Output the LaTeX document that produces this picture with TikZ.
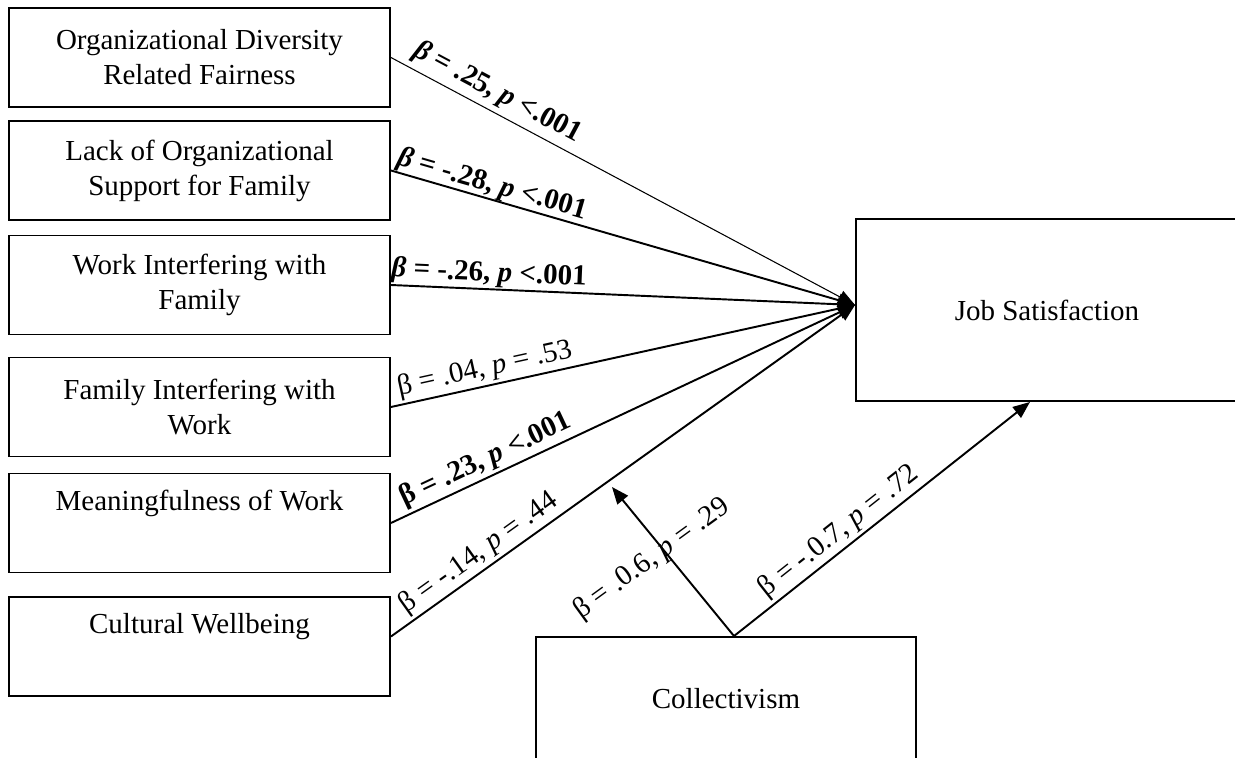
\documentclass[tikz,border=0pt]{standalone}
\usepackage{fontspec}
\setmainfont{Liberation Serif}
\usetikzlibrary{arrows.meta}

\tikzset{
  factor/.style={draw, line width=1.1pt, minimum width=7.62cm, minimum height=1.98cm, inner sep=0pt, align=center},
  effect/.style={line width=1.1pt, -{Triangle[length=3.4mm,width=2.7mm]}},
  coef/.style={sloped, above, inner sep=1.5pt, pos=0.21},
}

\begin{document}
\begin{tikzpicture}[font=\fontsize{16.5}{20}\selectfont]
    \useasboundingbox (0,0) rectangle (24.7,15.14);
    \clip (0,0) rectangle (24.7,15.14);

    % predictors
    \node[factor] (odf) at (3.99,13.99) {Organizational Diversity\\Related Fairness};
    \node[factor] (losf) at (3.99,11.73) {Lack of Organizational\\Support for Family};
    \node[factor] (wif) at (3.99,9.44) {Work Interfering with\\Family};
    \node[factor] (fiw) at (3.99,7.00) {Family Interfering with\\Work};
    \node[factor] (mw) at (3.99,4.68) {Meaningfulness of Work\\\strut};
    \node[factor] (cw) at (3.99,2.21) {Cultural Wellbeing\\\strut};

    % outcome and moderator
    \node[factor, minimum width=7.64cm, minimum height=3.64cm] (js) at (20.94,8.94) {Job Satisfaction};
    \node[factor, minimum width=7.6cm, minimum height=2.48cm] (coll) at (14.52,1.16) {Collectivism};
    \coordinate (hub) at ([yshift=1mm]js.west);

    % direct effects
    \draw[effect, line width=0.6pt] (odf.east) -- node[coef, inner sep=3pt] (b1) {\textbf{\textit{β} = .25, \textit{p} <.001}} (hub);
    \draw[effect] (losf.east) -- node[coef, inner sep=0pt] (b2) {\textbf{\textit{β} = -.28, \textit{p} <.001}} (hub);
    \draw[effect] (wif.east) -- node[coef, inner sep=0.5pt] (b3) {\textbf{\textit{β} = -.26, \textit{p} <.001}} (hub);
    \draw[effect] (fiw.east) -- node[coef] (b4) {β = .04, \textit{p} = .53} (hub);
    \draw[effect] (mw.east) -- node[coef, pos=0.22] (b5) {\textbf{β = .23, \textit{p} <.001}} (hub);
    \draw[effect] ([yshift=2mm]cw.east) -- node[coef, pos=0.21] (b6) {β = -.14, \textit{p} = .44} (hub);

    % moderation
    \coordinate (mod) at (12.24,5.40);
    \draw[effect] ([xshift=1.6mm]coll.north) -- node[rotate=36, pos=0.55, xshift=-3mm, yshift=1mm] (bm) {β = .0.6, \textit{p} = .29} (mod);
    \draw[effect] ([xshift=1.6mm]coll.north) -- node[coef, pos=0.39] (bc) {β = -.0.7, \textit{p} = .72} ([xshift=-3.4mm]js.south);
\end{tikzpicture}
\end{document}
